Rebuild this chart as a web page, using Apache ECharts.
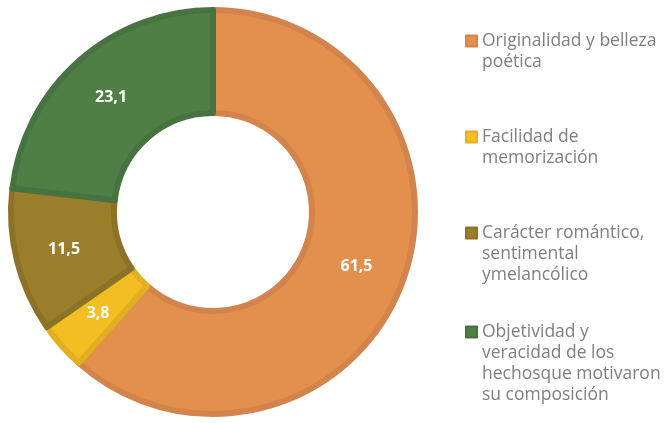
<!DOCTYPE html>
<html><head><meta charset="utf-8">
<script src="https://cdn.jsdelivr.net/npm/echarts@6/dist/echarts.min.js"></script>
<style>html,body{margin:0;padding:0;background:#fff}#c{width:669px;height:423px}</style>
</head><body><div id="c"></div>
<script>
const categories = ['Originalidad y belleza\npoética','Facilidad de\nmemorización','Carácter romántico,\nsentimental\nymelancólico','Objetividad y\nveracidad de los\nhechosque motivaron\nsu composición'];
const values = [61.5, 3.8, 11.5, 23.1];
const colors = ['#E3904F','#F3BE22','#9A7E2B','#4F7F46'];
const borderColors = ['#D3844C','#E2AE22','#8C7228','#477340'];
const firstLineY = [41, 137, 233, 332];

const chart = echarts.init(document.getElementById('c'));
const lh = 21;
const legends = categories.map((c, i) => {
  const n = c.split('\n').length;
  return {
    data: [c], left: 465, top: firstLineY[i] - lh / 2 - (n - 1) * lh, orient: 'vertical', padding: 0,
    icon: 'rect', itemWidth: 11, itemHeight: 11, itemGap: 3,
    selectedMode: false,
    formatter: name => ' \n'.repeat(n - 1) + name,
    textStyle: {color: '#7F7F7F', fontSize: 17.5, fontFamily: 'Open Sans', lineHeight: lh}
  };
});
chart.setOption({
  animation: false,
  legend: legends,
  series: [{
    type: 'pie', center: [213, 212], radius: [99, 202], startAngle: 90, clockwise: true,
    avoidLabelOverlap: false,
    data: categories.map((c, i) => ({name: c, value: values[i], itemStyle: {color: colors[i], borderColor: borderColors[i], borderWidth: 6}})),
    label: {show: true, position: 'inside', color: '#fff', fontWeight: 'bold', fontSize: 16, fontFamily: 'Open Sans',
      formatter: p => String(p.value).replace('.', ',')},
    labelLine: {show: false},
    emphasis: {disabled: true}
  }]
});
</script></body></html>
